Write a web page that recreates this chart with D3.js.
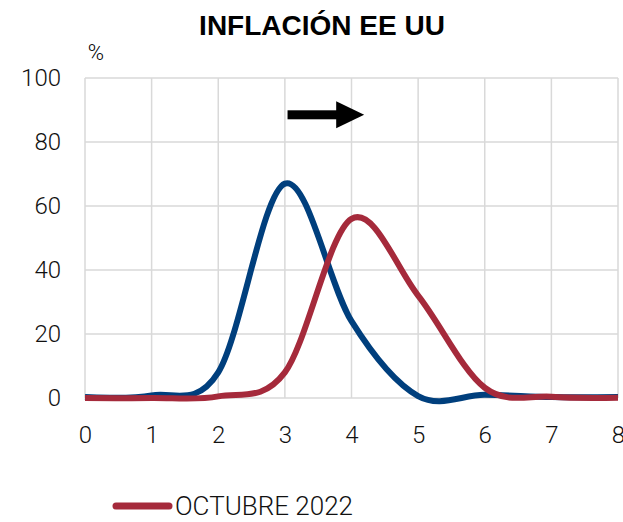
<!DOCTYPE html>
<html>
<head>
<meta charset="utf-8">
<script src="https://cdn.jsdelivr.net/npm/d3@7"></script>
<style>
  body { margin: 0; background: #fff; }
  .tick text { font-family: Roboto, "Liberation Sans", sans-serif; font-weight: 300; font-size: 24px; fill: #111; }
</style>
</head>
<body>
<svg width="623" height="522"></svg>
<script>
// inflation range (%), integer bins
var xValues = [0, 1, 2, 3, 4, 5, 6, 7, 8];
var serieAzul = [0.3, 0.8, 8, 67, 24, 0.6, 1, 0.3, 0.3];
var serieRoja = [0, 0, 0.5, 8, 56, 32, 3.2, 0.4, 0.1];
var yTicks = [0, 20, 40, 60, 80, 100];
var xTicks = [0, 1, 2, 3, 4, 5, 6, 7, 8];
var legendLabel = "OCTUBRE 2022";
// arrow annotation (from, to) in data units
var flecha = [[3.04, 88.5], [4.19, 88.5]];

var svg = d3.select("svg"),
    marginLeft = 85, marginTop = 78,
    width = 533, height = 320;

var x = d3.scaleLinear().domain([0, 8]).range([0, width]);
var y = d3.scaleLinear().domain([0, 100]).range([height, 0]);

svg.append("text")
   .attr("x", 322).attr("y", 35)
   .attr("text-anchor", "middle")
   .attr("font-family", "'Liberation Sans', Arial, sans-serif")
   .attr("font-weight", "bold")
   .attr("font-size", "28px")
   .text("INFLACIÓN EE UU");

svg.append("text")
   .attr("x", 96).attr("y", 60)
   .attr("text-anchor", "middle")
   .attr("font-family", "Roboto, sans-serif")
   .attr("font-weight", 300)
   .attr("font-size", "22px")
   .text("%");

var g = svg.append("g")
   .attr("transform", "translate(" + marginLeft + "," + marginTop + ")");

// grid
g.append("g")
   .selectAll("line").data(yTicks).enter()
   .append("line")
   .attr("x1", 0).attr("x2", width)
   .attr("y1", function(d) { return y(d); })
   .attr("y2", function(d) { return y(d); })
   .attr("stroke", "#d9d9d9").attr("stroke-width", 1.5);
g.append("g")
   .selectAll("line").data(xTicks).enter()
   .append("line")
   .attr("y1", 0).attr("y2", height)
   .attr("x1", function(d) { return x(d); })
   .attr("x2", function(d) { return x(d); })
   .attr("stroke", "#d9d9d9").attr("stroke-width", 1.5);

// axes (labels only)
var ax = g.append("g")
   .attr("transform", "translate(0," + height + ")")
   .call(d3.axisBottom(x).tickValues(xTicks).tickSize(0).tickPadding(28).tickFormat(d3.format("d")));
ax.select(".domain").remove();

var ay = g.append("g")
   .call(d3.axisLeft(y).tickValues(yTicks).tickSize(0).tickPadding(24));
ay.select(".domain").remove();

var line = d3.line()
   .x(function(d, i) { return x(xValues[i]); })
   .y(function(d) { return y(d); })
   .curve(d3.curveCatmullRom.alpha(0));

g.append("path")
   .datum(serieAzul)
   .attr("d", line)
   .attr("fill", "none")
   .attr("stroke", "#003f7d")
   .attr("stroke-width", 6)
   .attr("stroke-linejoin", "round");

g.append("path")
   .datum(serieRoja)
   .attr("d", line)
   .attr("fill", "none")
   .attr("stroke", "#a52a3b")
   .attr("stroke-width", 6)
   .attr("stroke-linejoin", "round");

// arrow
var x0 = x(flecha[0][0]), x1 = x(flecha[1][0]), ya = y(flecha[0][1]);
g.append("rect")
   .attr("x", x0).attr("y", ya - 4.5)
   .attr("width", x1 - x0 - 27).attr("height", 9)
   .attr("fill", "#000");
g.append("path")
   .attr("d", "M" + (x1 - 28) + "," + (ya - 13.5) + "L" + x1 + "," + ya + "L" + (x1 - 28) + "," + (ya + 13.5) + "Z")
   .attr("fill", "#000");

// legend
var lg = svg.append("g").attr("transform", "translate(113,506)");
lg.append("line")
   .attr("x1", 3).attr("x2", 56)
   .attr("stroke", "#a52a3b").attr("stroke-width", 7)
   .attr("stroke-linecap", "round");
lg.append("text")
   .attr("x", 62).attr("y", 9)
   .attr("font-family", "Roboto, sans-serif")
   .attr("font-weight", 300)
   .attr("font-size", "26px")
   .attr("fill", "#111")
   .text(legendLabel);
</script>
</body>
</html>
